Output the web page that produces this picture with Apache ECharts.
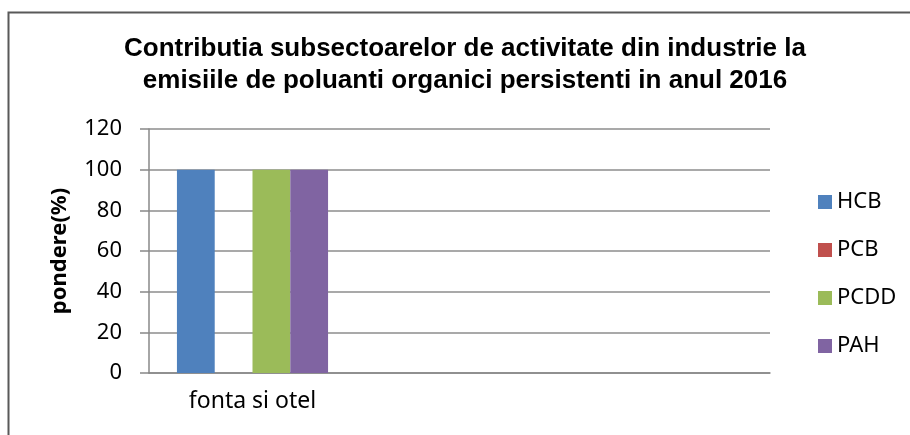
<!DOCTYPE html>
<html>
<head>
<meta charset="utf-8">
<script src="https://cdn.jsdelivr.net/npm/echarts@6/dist/echarts.min.js"></script>
<style>
  html, body { margin: 0; padding: 0; background: #fff; }
  #chart { width: 910px; height: 435px; }
</style>
</head>
<body>
<div id="chart"></div>
<script>
// categories (Excel left two empty slots after the only real one)
const categories = ['fonta si otel', '', '']
const yTicks = [0, 20, 40, 60, 80, 100, 120]

const hcb = [100]
const pcb = [0]
const pcdd = [100]
const pah = [100]

const seriesNames = ['HCB', 'PCB', 'PCDD', 'PAH']
const seriesValues = [hcb, pcb, pcdd, pah]
const colors = ['#4F81BD', '#C0504D', '#9BBB59', '#8064A2']

const font = 'Noto Sans'
const chart = echarts.init(document.getElementById('chart'))

const option = {
  animation: false,
  title: {
    text: 'Contributia subsectoarelor de activitate din industrie la\nemisiile de poluanti organici persistenti in anul 2016',
    left: 465,
    top: 33,
    padding: 0,
    textAlign: 'center',
    textStyle: {
      fontFamily: 'Liberation Sans',
      fontSize: 26,
      fontWeight: 'bold',
      color: '#000',
      lineHeight: 32
    }
  },
  graphic: [{
    type: 'rect',
    shape: { x: 8.5, y: 12.5, width: 1000, height: 1000 },
    style: { fill: 'none', stroke: '#595959', lineWidth: 2 },
    silent: true
  }],
  legend: {
    orient: 'vertical',
    left: 813,
    top: 185,
    itemWidth: 14,
    itemHeight: 14,
    itemGap: 24,
    icon: 'rect',
    data: seriesNames,
    textStyle: { fontFamily: font, fontSize: 22, color: '#000', lineHeight: 24 }
  },
  grid: {
    left: 149,
    right: 140,
    top: 129,
    bottom: 62
  },
  xAxis: {
    type: 'category',
    data: categories,
    axisLine: { lineStyle: { color: '#888', width: 1.5 } },
    axisTick: { show: false },
    axisLabel: { fontFamily: font, fontSize: 23, color: '#000', margin: 17 }
  },
  yAxis: {
    type: 'value',
    min: yTicks[0],
    max: yTicks[yTicks.length - 1],
    interval: 20,
    name: 'pondere(%)',
    nameLocation: 'middle',
    nameGap: 78,
    nameTextStyle: { fontFamily: font, fontSize: 22, fontWeight: 'bold', color: '#000' },
    axisLine: { show: true, lineStyle: { color: '#888', width: 1.5 } },
    axisTick: { show: true, length: 9, lineStyle: { color: '#888', width: 1.5 } },
    axisLabel: { fontFamily: font, fontSize: 22, color: '#000', margin: 27 },
    splitLine: { lineStyle: { color: '#8c8c8c', width: 1.5 } }
  },
  series: seriesValues.map((vals, i) => ({
    name: seriesNames[i],
    type: 'bar',
    data: vals,
    barGap: 0,
    barCategoryGap: '27%',
    itemStyle: { color: colors[i] }
  }))
}

chart.setOption(option)
window.addEventListener('resize', () => chart.resize())
</script>
</body>
</html>
